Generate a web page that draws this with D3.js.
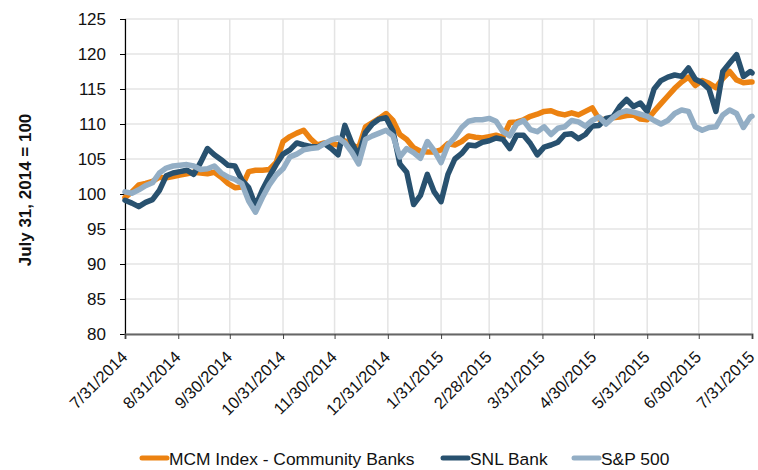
<!DOCTYPE html>
<html>
<head>
<meta charset="utf-8">
<script src="https://cdn.jsdelivr.net/npm/d3@7"></script>
<style>
	body { margin: 0; background: #fff; }
	svg { display: block; font-family: "Liberation Sans", Arial, sans-serif; }
	.grid line { stroke: #e4e4e4; stroke-width: 1.5; }
	.series { fill: none; stroke-width: 5.5; stroke-linejoin: round; stroke-linecap: round; }
</style>
</head>
<body>
<div id="chart"><svg></svg></div>
<script>
var dates = [
	"2014-07-31", "2014-08-04", "2014-08-08", "2014-08-12", "2014-08-16", "2014-08-20", "2014-08-24", "2014-08-28",
	"2014-09-01", "2014-09-05", "2014-09-09", "2014-09-13", "2014-09-17", "2014-09-21", "2014-09-25", "2014-09-29",
	"2014-10-03", "2014-10-07", "2014-10-11", "2014-10-15", "2014-10-19", "2014-10-23", "2014-10-27", "2014-10-31",
	"2014-11-04", "2014-11-08", "2014-11-12", "2014-11-16", "2014-11-20", "2014-11-24", "2014-11-28", "2014-12-02",
	"2014-12-06", "2014-12-10", "2014-12-14", "2014-12-18", "2014-12-22", "2014-12-26", "2014-12-30", "2015-01-03",
	"2015-01-07", "2015-01-11", "2015-01-15", "2015-01-19", "2015-01-23", "2015-01-27", "2015-01-31", "2015-02-04",
	"2015-02-08", "2015-02-12", "2015-02-16", "2015-02-20", "2015-02-24", "2015-02-28", "2015-03-04", "2015-03-08",
	"2015-03-12", "2015-03-16", "2015-03-20", "2015-03-24", "2015-03-28", "2015-04-01", "2015-04-05", "2015-04-09",
	"2015-04-13", "2015-04-17", "2015-04-21", "2015-04-25", "2015-04-29", "2015-05-03", "2015-05-07", "2015-05-11",
	"2015-05-15", "2015-05-19", "2015-05-23", "2015-05-27", "2015-05-31", "2015-06-04", "2015-06-08", "2015-06-12",
	"2015-06-16", "2015-06-20", "2015-06-24", "2015-06-28", "2015-07-02", "2015-07-06", "2015-07-10", "2015-07-14",
	"2015-07-18", "2015-07-22", "2015-07-26", "2015-07-30", "2015-07-31"
];

var mcmValues = [
	99.5, 100.3, 101.3, 101.5, 101.8, 102.4, 102.3, 102.5,
	102.7, 102.9, 103.1, 103.0, 102.9, 103.1, 102.4, 101.5,
	100.9, 101.0, 103.2, 103.4, 103.4, 103.5, 104.5, 107.5,
	108.2, 108.7, 109.1, 107.9, 107.0, 107.3, 107.2, 107.0,
	107.6, 107.0, 106.6, 109.6, 110.2, 110.8, 111.5, 110.5,
	108.5, 107.8, 106.6, 106.1, 106.0, 106.0, 106.3, 107.2,
	107.0, 107.5, 108.3, 108.1, 108.0, 108.2, 108.4, 108.1,
	110.2, 110.3, 110.6, 111.1, 111.4, 111.8, 111.9, 111.5,
	111.3, 111.6, 111.3, 111.8, 112.3, 110.7, 110.6, 110.9,
	111.0, 111.2, 111.3, 110.7, 110.6, 111.8, 112.9, 114.0,
	115.1, 116.0, 116.7, 115.5, 116.2, 115.8, 115.2, 116.5,
	117.5, 116.3, 115.9, 116.0, 116.0
];

var snlValues = [
	99.1, 98.7, 98.2, 98.8, 99.2, 100.5, 102.6, 103.0,
	103.2, 103.4, 102.8, 104.5, 106.5, 105.6, 104.9, 104.1,
	104.0, 102.0, 100.9, 98.3, 100.6, 102.5, 104.2, 105.7,
	106.3, 107.3, 107.0, 106.8, 106.7, 107.2, 106.5, 105.6,
	109.8, 107.3, 105.5, 108.8, 110.0, 110.7, 110.9, 109.0,
	104.3, 103.1, 98.5, 99.8, 102.8, 100.3, 98.9, 102.8,
	105.0, 105.8, 107.0, 106.9, 107.4, 107.6, 108.0, 107.8,
	106.5, 108.4, 108.4, 107.2, 105.6, 106.7, 107.0, 107.4,
	108.5, 108.6, 107.9, 108.5, 109.7, 109.8, 110.8, 111.0,
	112.5, 113.5, 112.5, 113.0, 111.8, 115.0, 116.2, 116.7,
	117.0, 116.8, 118.0, 116.4, 115.9, 115.0, 111.8, 117.5,
	118.7, 119.9, 116.8, 117.5, 117.3
];

var spValues = [
	100.3, 100.1, 100.6, 101.2, 101.6, 103.0, 103.7, 104.0,
	104.1, 104.2, 104.0, 103.5, 103.6, 104.0, 103.0, 102.4,
	102.1, 101.5, 99.0, 97.4, 99.5, 101.3, 102.7, 103.6,
	105.3, 105.7, 106.3, 106.5, 106.6, 107.2, 107.7, 108.0,
	107.3, 106.0, 104.3, 107.8, 108.3, 108.7, 109.1, 108.3,
	105.3, 106.5, 105.9, 105.1, 107.5, 106.2, 104.5, 107.0,
	108.1, 109.5, 110.4, 110.6, 110.6, 110.8, 110.4, 108.9,
	108.3, 110.0, 110.5, 109.2, 108.9, 109.6, 108.5, 109.4,
	109.6, 110.5, 110.3, 109.7, 110.5, 111.0, 110.0, 110.9,
	111.6, 111.9, 111.7, 111.4, 111.1, 110.5, 110.0, 110.5,
	111.5, 112.0, 111.8, 109.6, 109.1, 109.5, 109.6, 111.3,
	112.0, 111.5, 109.5, 111.0, 111.1
];

var seriesNames = ["MCM Index - Community Banks", "SNL Bank", "S&P 500"];
var seriesColors = ["#ec8211", "#28516f", "#93aec5"];
var xTickDates = [
	"2014-07-31", "2014-08-31", "2014-09-30", "2014-10-31", "2014-11-30", "2014-12-31", "2015-01-31",
	"2015-02-28", "2015-03-31", "2015-04-30", "2015-05-31", "2015-06-30", "2015-07-31"
];
var yTicks = [80, 85, 90, 95, 100, 105, 110, 115, 120, 125];
var yTitle = "July 31, 2014 = 100";

function IndexChart(selector) {
	var self = this;
	self.width = 758;
	self.height = 470;
	self.margin = { left: 125, right: 6, top: 19, bottom: 136 };
	self.svg = d3.select(selector + " svg");
	self.parse = d3.timeParse("%Y-%m-%d");
}

IndexChart.prototype.draw = function() {
	var self = this;
	self.svg.attr("width", self.width).attr("height", self.height);
	self.setScales();
	self.drawGrid();
	self.drawAxes();
	self.drawLines();
	self.drawLegend();
};

IndexChart.prototype.setScales = function() {
	var self = this;
	self.x = d3.scaleTime()
		.domain([self.parse(xTickDates[0]), self.parse(xTickDates[xTickDates.length - 1])])
		.range([self.margin.left, self.width - self.margin.right]);
	self.y = d3.scaleLinear()
		.domain([80, 125])
		.range([self.height - self.margin.bottom, self.margin.top]);
};

IndexChart.prototype.drawGrid = function() {
	var self = this;
	var g = self.svg.append("g").attr("class", "grid");
	g.selectAll("line.h").data(yTicks).enter().append("line")
		.attr("x1", self.x.range()[0]).attr("x2", self.x.range()[1])
		.attr("y1", function(d) { return self.y(d); })
		.attr("y2", function(d) { return self.y(d); });
	g.selectAll("line.v").data(xTickDates).enter().append("line")
		.attr("x1", function(d) { return self.x(self.parse(d)); })
		.attr("x2", function(d) { return self.x(self.parse(d)); })
		.attr("y1", self.y.range()[0]).attr("y2", self.y.range()[1]);
};

IndexChart.prototype.drawAxes = function() {
	var self = this;
	var yAxis = d3.axisLeft(self.y).tickValues(yTicks).tickSize(5).tickPadding(14);
	var gy = self.svg.append("g")
		.attr("transform", "translate(" + self.margin.left + ",0)")
		.call(yAxis);
	gy.select(".domain").attr("stroke", "#000").attr("stroke-width", 1.2);
	gy.selectAll(".tick line").attr("stroke", "#000");
	gy.selectAll("text").attr("font-size", "17px").attr("fill", "#111")
		.attr("font-family", "Liberation Sans, Arial, sans-serif");

	var fmt = d3.timeFormat("%-m/%-d/%Y");
	var xAxis = d3.axisBottom(self.x)
		.tickValues(xTickDates.map(self.parse))
		.tickSize(5)
		.tickFormat(fmt);
	var gx = self.svg.append("g")
		.attr("transform", "translate(0," + self.y(80) + ")")
		.call(xAxis);
	gx.select(".domain").attr("stroke", "#666").attr("stroke-width", 2);
	gx.selectAll(".tick line").attr("stroke", "#444");
	gx.selectAll("text")
		.attr("font-size", "16.5px").attr("fill", "#111")
		.attr("font-family", "Liberation Sans, Arial, sans-serif")
		.attr("text-anchor", "end")
		.attr("dy", null)
		.attr("y", 0)
		.attr("transform", "translate(3,24) rotate(-45)");

	self.svg.append("text")
		.attr("transform", "translate(31," + 190 + ") rotate(-90)")
		.attr("text-anchor", "middle")
		.attr("font-size", "17px")
		.attr("font-weight", "bold")
		.attr("fill", "#111")
		.text(yTitle);
};

IndexChart.prototype.drawLines = function() {
	var self = this;
	var parsed = dates.map(self.parse);
	var all = [mcmValues, snlValues, spValues];
	var line = d3.line()
		.x(function(d) { return self.x(d.date); })
		.y(function(d) { return self.y(d.value); });
	all.forEach(function(values, s) {
		var pts = values.map(function(v, i) { return { date: parsed[i], value: v }; });
		self.svg.append("path")
			.attr("class", "series")
			.attr("stroke", seriesColors[s])
			.attr("d", line(pts));
	});
};

IndexChart.prototype.drawLegend = function() {
	var self = this;
	var starts = [140, 441, 572];
	var items = self.svg.selectAll("g.legend").data(seriesNames).enter().append("g")
		.attr("class", "legend")
		.attr("transform", function(d, i) { return "translate(" + starts[i] + ",458)"; });
	items.append("line")
		.attr("x1", 2).attr("x2", 27)
		.attr("y1", 0).attr("y2", 0)
		.attr("stroke", function(d, i) { return seriesColors[i]; })
		.attr("stroke-width", 5)
		.attr("stroke-linecap", "round");
	items.append("text")
		.attr("x", 29)
		.attr("y", 7)
		.attr("font-size", "17.4px")
		.attr("fill", "#111")
		.text(function(d) { return d; });
};

var chart = new IndexChart("#chart");
chart.draw();
</script>
</body>
</html>
